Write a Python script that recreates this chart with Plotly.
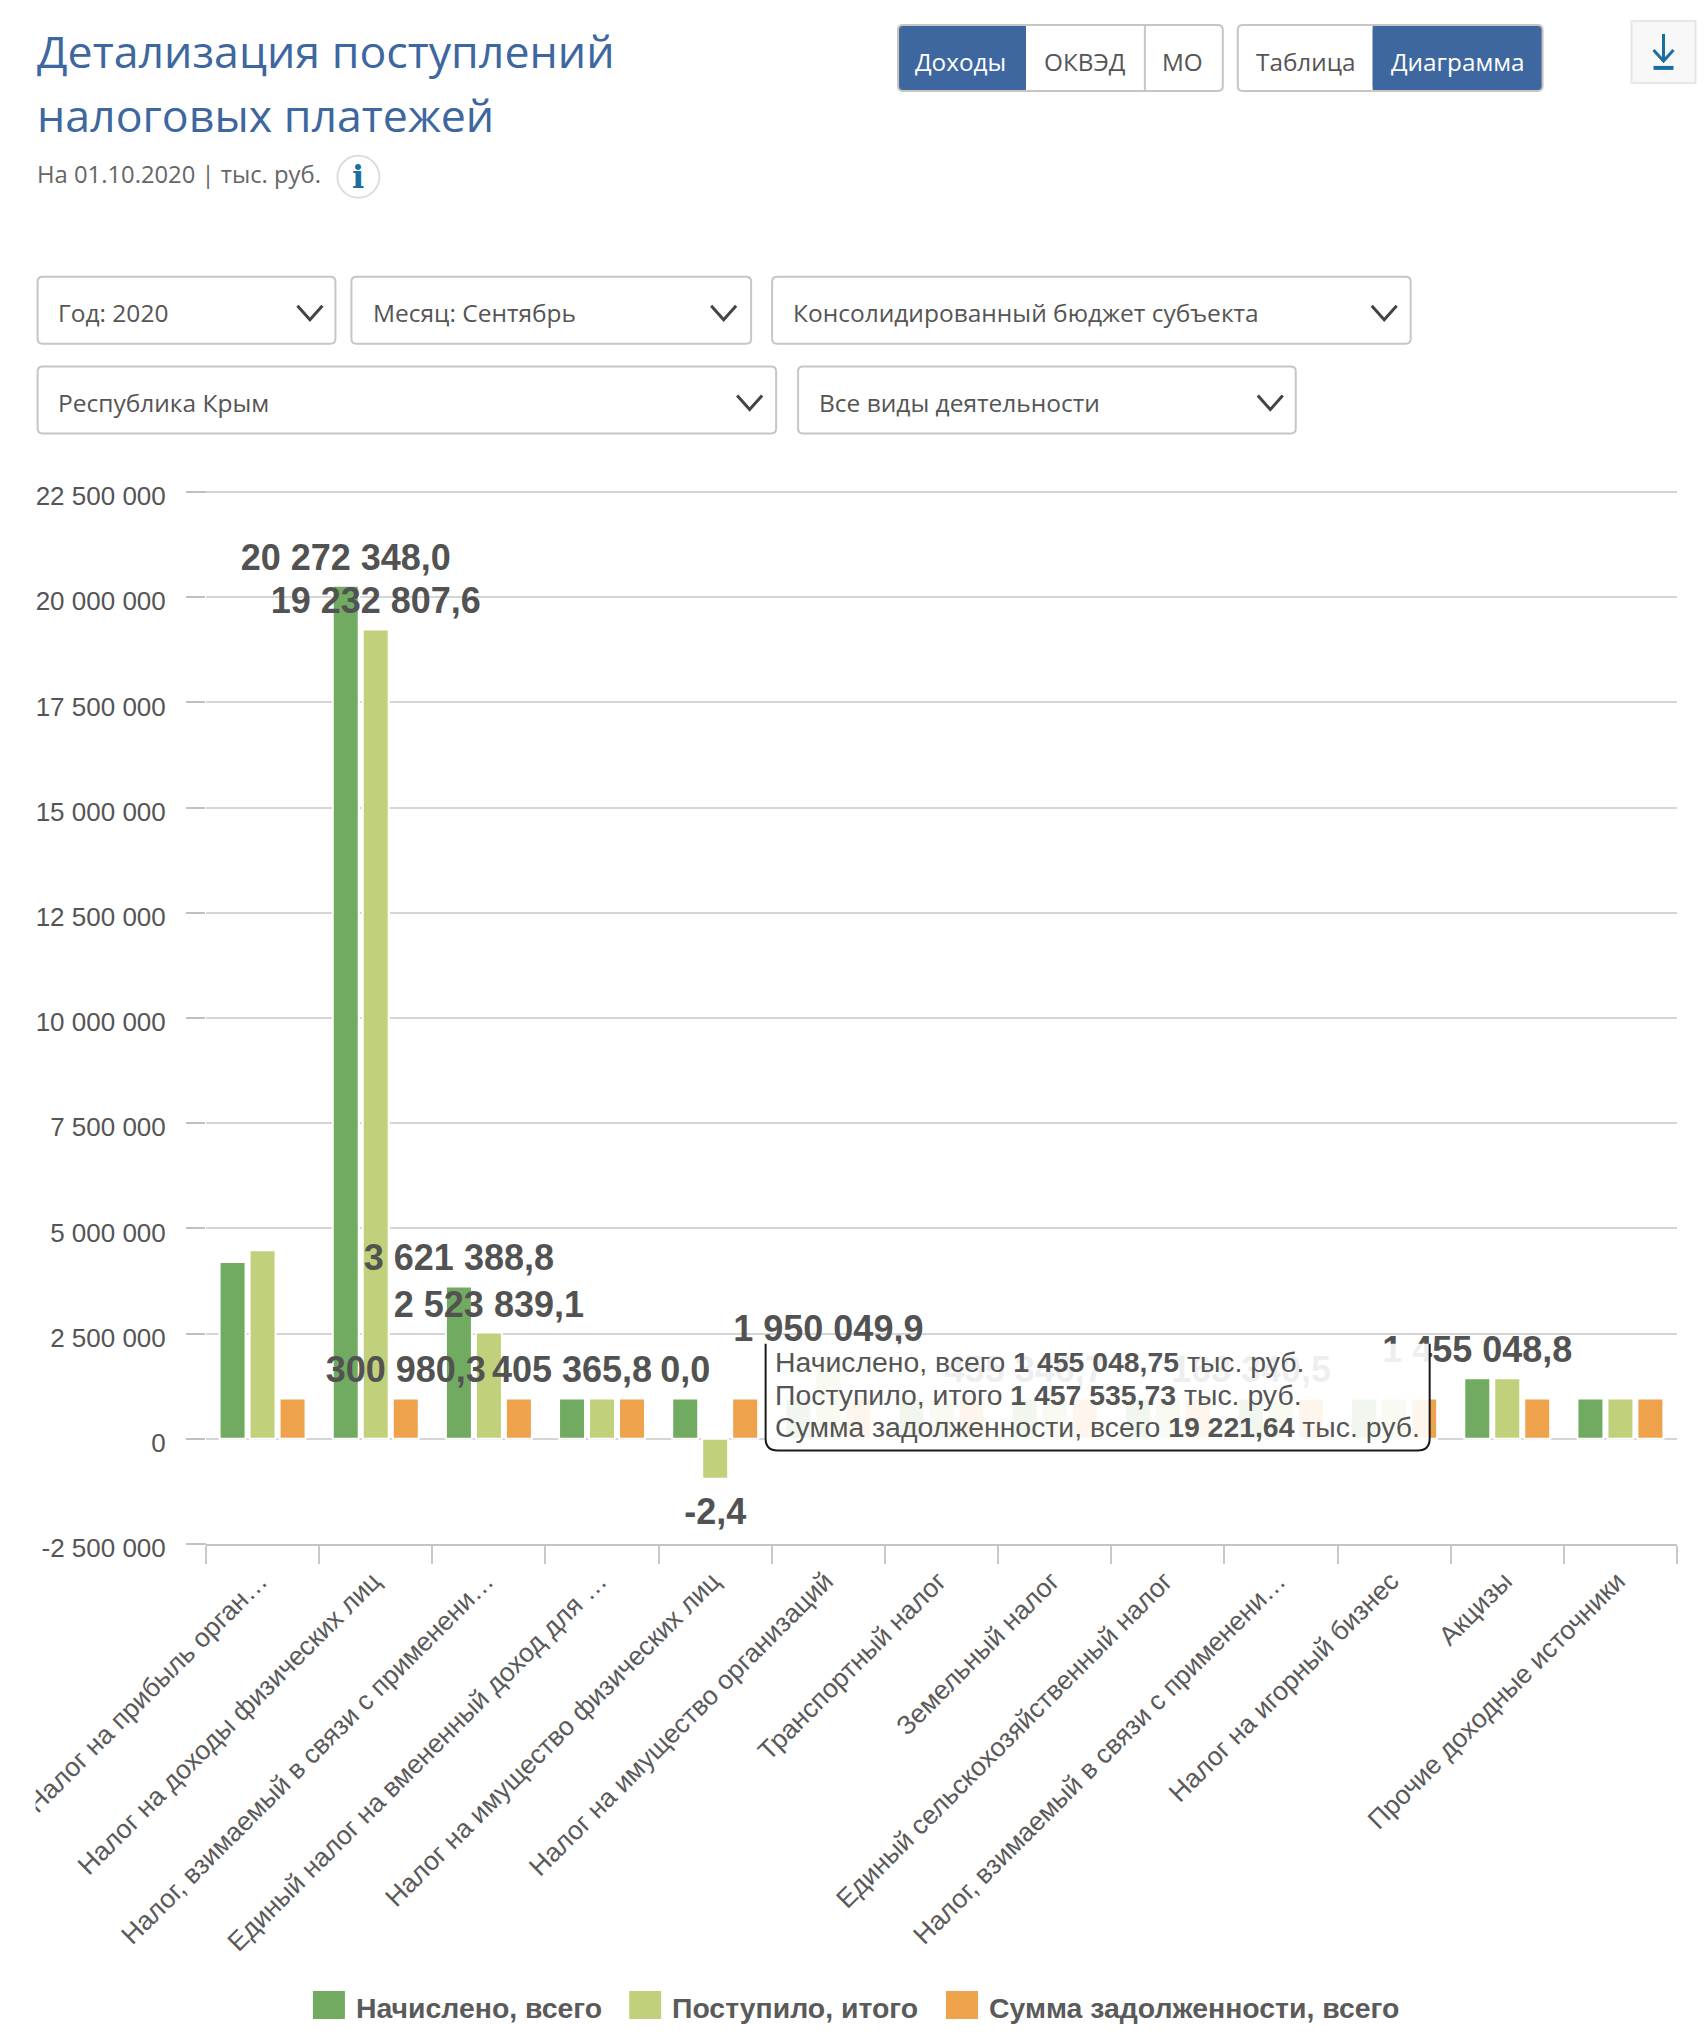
"""Gráfico de barras de pagos de impuestos con los controles de la página."""

from pathlib import Path

import pandas as pd

# Márgenes del área de trazado en píxeles de la página
PAGE_OFFSET = 8
PLOT_LEFT = 205.5
PLOT_RIGHT = 1677.5
PLOT_TOP = 491.5
PLOT_BOTTOM = 1544.5

BLUE = "#3e67a0"
BORDER = "#c9c6c2"
TEXT_GRAY = "#555555"
UI_FONT = "Open Sans"
CHART_FONT = "Liberation Sans"

# Separación extra de las etiquetas respecto a la barra, en unidades del eje
LABEL_PAD_UP = 119000
LABEL_PAD_DOWN = 214000


def px_x(x: float) -> float:
    """Convierte un píxel horizontal de la página a coordenada paper."""
    return (x - PLOT_LEFT) / (PLOT_RIGHT - PLOT_LEFT)


def px_y(y: float) -> float:
    """Convierte un píxel vertical de la página a coordenada paper."""
    return (PLOT_BOTTOM - y) / (PLOT_BOTTOM - PLOT_TOP)


def rounded_path(x0: float, y0: float, x1: float, y1: float, r: float = 5) -> str:
    """Devuelve el path SVG de un rectángulo redondeado en coordenadas paper."""
    pts = [
        f"M{px_x(x0 + r)},{px_y(y0)}",
        f"L{px_x(x1 - r)},{px_y(y0)}",
        f"Q{px_x(x1)},{px_y(y0)} {px_x(x1)},{px_y(y0 + r)}",
        f"L{px_x(x1)},{px_y(y1 - r)}",
        f"Q{px_x(x1)},{px_y(y1)} {px_x(x1 - r)},{px_y(y1)}",
        f"L{px_x(x0 + r)},{px_y(y1)}",
        f"Q{px_x(x0)},{px_y(y1)} {px_x(x0)},{px_y(y1 - r)}",
        f"L{px_x(x0)},{px_y(y0 + r)}",
        f"Q{px_x(x0)},{px_y(y0)} {px_x(x0 + r)},{px_y(y0)}",
        "Z",
    ]
    return " ".join(pts)


def add_text(fig: object, x: float, y: float, text: str, size: float = 25, color: str = TEXT_GRAY,
             anchor: str = "left", family: str = UI_FONT) -> None:
    """Añade un texto fijo a la página."""
    fig.add_annotation(
        x=px_x(x),
        y=px_y(y),
        xref="paper",
        yref="paper",
        text=text,
        showarrow=False,
        xanchor=anchor,
        yanchor="middle",
        font=dict(size=size, color=color, family=family),
    )


def add_polyline(fig: object, points: list, color: str, width: float) -> None:
    """Añade una línea quebrada abierta a la página."""
    path = "M" + " L".join(f"{px_x(x)},{px_y(y)}" for x, y in points)
    fig.add_shape(type="path", xref="paper", yref="paper", path=path, line=dict(color=color, width=width))


def add_box(fig: object, x0: float, y0: float, x1: float, y1: float, color: str) -> None:
    """Añade un rectángulo relleno sin borde."""
    fig.add_shape(
        type="rect", xref="paper", yref="paper",
        x0=px_x(x0), x1=px_x(x1), y0=px_y(y0), y1=px_y(y1),
        fillcolor=color, line=dict(width=0),
    )


def add_button_group(fig: object, x0: float, x1: float, active: tuple, dividers: list) -> None:
    """Dibuja un grupo de botones con su segmento activo relleno.

    Args:
        fig: Figura Plotly.
        x0: Borde izquierdo del grupo.
        x1: Borde derecho del grupo.
        active: Extremos (izquierda, derecha) del segmento activo.
        dividers: Posiciones de los separadores internos.
    """
    y0, y1 = 24, 90
    fig.add_shape(
        type="path", xref="paper", yref="paper",
        path=rounded_path(active[0], y0, active[1], y1),
        fillcolor=BLUE, line=dict(width=0),
    )
    # El lado interior del segmento activo queda recto
    if active[0] == x0:
        add_box(fig, active[1] - 10, y0, active[1], y1, BLUE)
    else:
        add_box(fig, active[0], y0, active[0] + 10, y1, BLUE)
    fig.add_shape(
        type="path", xref="paper", yref="paper",
        path=rounded_path(x0, y0, x1, y1),
        line=dict(color=BORDER, width=2),
    )
    for x in dividers:
        add_polyline(fig, [(x, y0), (x, y1)], BORDER, 2)


def add_page_controls(fig: object) -> None:
    """Dibuja título, botones y listas desplegables de la página.

    Args:
        fig: Figura Plotly a la que se añaden los controles.
    """
    add_text(fig, 34, 50, "Детализация поступлений", size=44.7, color=BLUE)
    add_text(fig, 34, 114, "налоговых платежей", size=44.7, color=BLUE)
    add_text(fig, 34, 173, "На 01.10.2020 | тыс. руб.", size=23.8, color="#666666")

    # Icono de información
    fig.add_shape(
        type="circle", xref="paper", yref="paper",
        x0=px_x(337), x1=px_x(379), y0=px_y(155), y1=px_y(197),
        line=dict(color="#dddddd", width=2), fillcolor="white",
    )
    add_text(fig, 358, 176, "<b>i</b>", size=32, color="#1a6fa0", anchor="center", family="DejaVu Serif")

    # Grupos de botones
    add_button_group(fig, 898, 1223, (898, 1026), [1145])
    add_button_group(fig, 1238, 1543, (1373, 1543), [])
    labels = [
        (961, "Доходы", "white"),
        (1085, "ОКВЭД", TEXT_GRAY),
        (1183, "МО", TEXT_GRAY),
        (1306, "Таблица", TEXT_GRAY),
        (1458, "Диаграмма", "white"),
    ]
    for x, label, color in labels:
        add_text(fig, x, 61, label, size=24.3, color=color, anchor="center")

    # Botón de descarga
    fig.add_shape(
        type="rect", xref="paper", yref="paper",
        x0=px_x(1632), x1=px_x(1696), y0=px_y(20), y1=px_y(82),
        fillcolor="#f8f8f8", line=dict(color="#e6e6e6", width=2),
    )
    add_polyline(fig, [(1664, 33), (1664, 60)], "#1a6fa0", 3)
    add_polyline(fig, [(1654, 49), (1664, 60), (1674, 49)], "#1a6fa0", 3)
    add_polyline(fig, [(1654, 67), (1674, 67)], "#1a6fa0", 4)

    # Listas desplegables
    dropdowns = [
        (37, 335, 276, 343, "Год: 2020", 55.5, 297),
        (351, 751, 276, 343, "Месяц: Сентябрь", 370.5, 711),
        (772, 1411, 276, 343, "Консолидированный бюджет субъекта", 790.5, 1372),
        (37, 776, 366, 433, "Республика Крым", 55.5, 737),
        (798, 1296, 366, 433, "Все виды деятельности", 816.5, 1258),
    ]
    for x0, x1, y0, y1, label, text_x, chevron_x in dropdowns:
        fig.add_shape(
            type="path", xref="paper", yref="paper",
            path=rounded_path(x0, y0, x1, y1),
            fillcolor="white",
            line=dict(color=BORDER, width=2),
        )
        add_text(fig, text_x, y0 + 36, label, size=24.5)
        add_polyline(
            fig,
            [(chevron_x, y0 + 29), (chevron_x + 12.5, y0 + 43), (chevron_x + 25, y0 + 29)],
            "#444444",
            3,
        )


def add_tooltip(fig: object) -> None:
    """Dibuja la ventana emergente abierta sobre las barras.

    Args:
        fig: Figura Plotly a la que se añade la ventana.
    """
    x0, x1, y0, y1, r = 765.5, 1430, 1344, 1451, 12
    add_box(fig, x0, y0, x1, y1, "rgba(255,255,255,0.9)")
    path = (
        f"M{px_x(x0)},{px_y(y0)} L{px_x(x0)},{px_y(y1 - r)} "
        f"Q{px_x(x0)},{px_y(y1)} {px_x(x0 + r)},{px_y(y1)} "
        f"L{px_x(x1 - r)},{px_y(y1)} "
        f"Q{px_x(x1)},{px_y(y1)} {px_x(x1)},{px_y(y1 - r)} L{px_x(x1)},{px_y(y0)}"
    )
    fig.add_shape(type="path", xref="paper", yref="paper", path=path, line=dict(color="#1a1a1a", width=2))

    lines = [
        (1362, "Начислено, всего <b>1 455 048,75</b> тыс. руб."),
        (1395, "Поступило, итого <b>1 457 535,73</b> тыс. руб."),
        (1427, "Сумма задолженности, всего <b>19 221,64</b> тыс. руб."),
    ]
    for y, text in lines:
        add_text(fig, 773, y, text, size=28.4, family=CHART_FONT)


def plot_tax_payments(
    data: pd.DataFrame,
    height: int = 2028,
    save_path: Path | None = None,
) -> object:
    """Barras agrupadas de impuestos por categoría.

    Args:
        data: DataFrame con columnas category, tick y un par valor/etiqueta por serie.
        height: Altura en píxeles.
        save_path: Ruta para guardar HTML.

    Returns:
        Figura Plotly.
    """
    import plotly.graph_objects as go

    fig = go.Figure()

    series = [
        ("Начислено, всего", "accrued", "accrued_label", "#70ab61"),
        ("Поступило, итого", "received", "received_label", "#c1d17b"),
        ("Сумма задолженности, всего", "debt", "debt_label", "#eea24c"),
    ]
    for name, col, _, color in series:
        fig.add_trace(
            go.Bar(
                x=data["category"],
                y=data[col],
                name=name,
                marker=dict(color=color, line=dict(color="white", width=2)),
                hovertemplate="%{x}<br>" + name + ": %{y}<extra></extra>",
            )
        )

    # Etiquetas en un eje superpuesto para que queden encima de todas las barras
    for name, col, label_col, _ in series:
        label_y = [v + LABEL_PAD_UP if v > 0 else v - LABEL_PAD_DOWN for v in data[col]]
        fig.add_trace(
            go.Bar(
                x=data["category"],
                y=label_y,
                name=name,
                xaxis="x2",
                yaxis="y2",
                text=data[label_col],
                textposition="outside",
                textangle=0,
                constraintext="none",
                cliponaxis=False,
                outsidetextfont=dict(size=36, color="#525252", family=CHART_FONT, weight="bold"),
                marker=dict(color="rgba(0,0,0,0)", line=dict(width=0)),
                hoverinfo="skip",
            )
        )

    yticks = [-2500000 + 2500000 * i for i in range(11)]
    yrange = [-2500000, 22500000]
    width = 1690

    fig.update_layout(
        template="plotly_white",
        width=width,
        height=height,
        margin=dict(
            l=PLOT_LEFT - PAGE_OFFSET,
            r=width - (PLOT_RIGHT - PAGE_OFFSET),
            t=PLOT_TOP - PAGE_OFFSET,
            b=height - (PLOT_BOTTOM - PAGE_OFFSET),
            autoexpand=False,
        ),
        barmode="group",
        bargap=0.205,
        bargroupgap=0.133,
        showlegend=False,
        font=dict(family=CHART_FONT, color=TEXT_GRAY),
        plot_bgcolor="white",
        paper_bgcolor="white",
        xaxis=dict(
            type="category",
            tickmode="array",
            tickvals=list(data["category"]),
            ticktext=list(data["tick"]),
            tickson="boundaries",
            ticks="outside",
            ticklen=18,
            tickwidth=2,
            tickcolor="#c8c8c8",
            tickangle=-45,
            ticklabelstandoff=9,
            ticklabelshift=-3,
            tickfont=dict(size=26.5, color="#5a5a5a"),
            showgrid=False,
            showline=True,
            linecolor="#c4c4c4",
            linewidth=2,
        ),
        yaxis=dict(
            range=yrange,
            tickmode="array",
            tickvals=yticks,
            ticktext=[f"{v:,}".replace(",", " ") for v in yticks],
            ticks="outside",
            ticklen=19,
            tickwidth=2,
            tickcolor="#c0c0c0",
            ticklabelstandoff=15,
            ticklabelshift=4,
            tickfont=dict(size=26, color="#555555"),
            gridcolor="#d5d5d5",
            gridwidth=2,
            zeroline=False,
            showline=False,
        ),
        xaxis2=dict(overlaying="x", type="category", visible=False),
        yaxis2=dict(overlaying="y", range=yrange, visible=False),
    )

    # Las líneas de los extremos del eje Y que Plotly omite
    for y in (PLOT_TOP, PLOT_BOTTOM):
        add_polyline(fig, [(186, y), (205.5, y)], "#c0c0c0", 2)
    add_polyline(fig, [(205.5, PLOT_TOP), (PLOT_RIGHT, PLOT_TOP)], "#d5d5d5", 2)

    add_page_controls(fig)
    add_tooltip(fig)

    # Recorte de la primera etiqueta en el borde izquierdo
    add_box(fig, PAGE_OFFSET, 1760, 35, 1860, "white")

    # Leyenda dibujada a mano para respetar el tamaño de las muestras
    legend_items = [
        (312.5, "Начислено, всего", "#70ab61"),
        (629, "Поступило, итого", "#c1d17b"),
        (946, "Сумма задолженности, всего", "#eea24c"),
    ]
    for x, label, color in legend_items:
        add_box(fig, x, 1992, x + 32, 2020, color)
        add_text(fig, x + 41, 2009, f"<b>{label}</b>", size=28.4, color="#5a5a5a", family=CHART_FONT)

    if save_path:
        fig.write_html(str(save_path))

    return fig


table = pd.DataFrame(
    {
        "category": [
            "Налог на прибыль организаций",
            "Налог на доходы физических лиц",
            "Налог, взимаемый в связи с применением упрощенной системы",
            "Единый налог на вмененный доход для отдельных видов деятельности",
            "Налог на имущество физических лиц",
            "Налог на имущество организаций",
            "Транспортный налог",
            "Земельный налог",
            "Единый сельскохозяйственный налог",
            "Налог, взимаемый в связи с применением патентной системы",
            "Налог на игорный бизнес",
            "Акцизы",
            "Прочие доходные источники",
        ],
        "tick": [
            "Налог на прибыль орган…",
            "Налог на доходы физических лиц",
            "Налог, взимаемый в связи с применени…",
            "Единый налог на вмененный доход для …",
            "Налог на имущество физических лиц",
            "Налог на имущество организаций",
            "Транспортный налог",
            "Земельный налог",
            "Единый сельскохозяйственный налог",
            "Налог, взимаемый в связи с применени…",
            "Налог на игорный бизнес",
            "Акцизы",
            "Прочие доходные источники",
        ],
        "accrued": [4200000, 20272348, 3621389, 960000, 960000, 960000, 960000, 960000, 960000, 960000, 960000, 1440000, 960000],
        "received": [4480000, 19232808, 2523839, 960000, -950000, 1950050, 960000, 960000, 960000, 960000, 960000, 1440000, 960000],
        "debt": [960000] * 13,
        "accrued_label": ["", "20 272 348,0", "3 621 388,8", "405 365,8", "0,0", "", "", "455 346,7", "", "163 340,5", "", "1 455 048,8", ""],
        "received_label": ["", "19 232 807,6", "2 523 839,1", "", "-2,4", "1 950 049,9", "", "", "", "", "", "", ""],
        "debt_label": ["", "300 980,3", "", "", "", "", "", "", "", "", "", "", ""],
    }
)

fig = plot_tax_payments(table)
fig.write_html("out.html")
